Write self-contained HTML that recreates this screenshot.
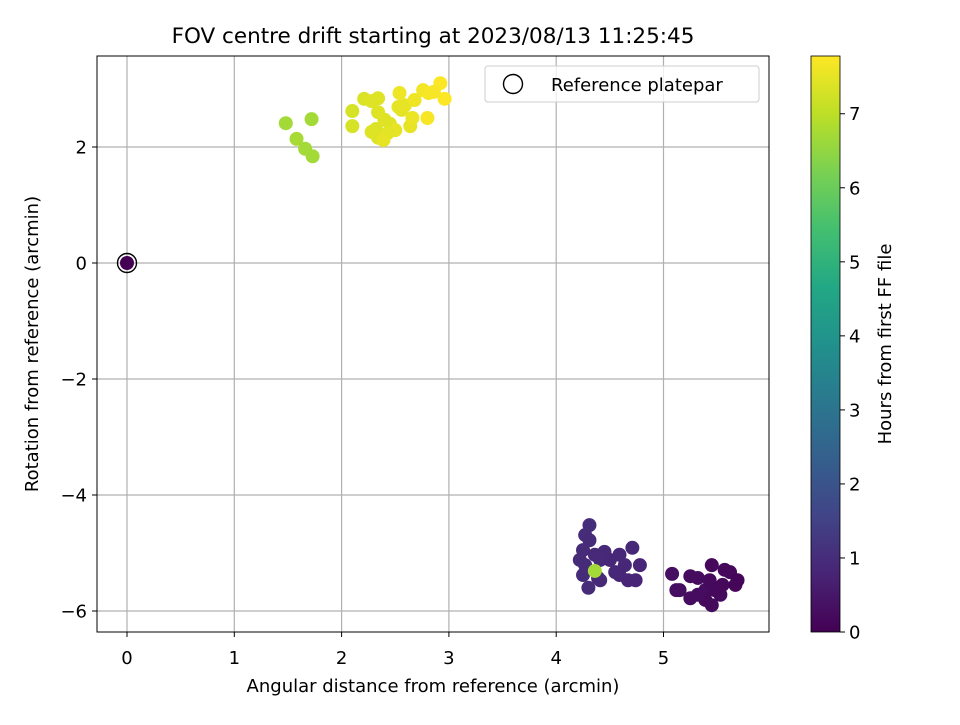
<!DOCTYPE html>
<html><head><meta charset="utf-8"><style>
body{margin:0;background:#fff;}
svg text{font-family:"DejaVu Sans","Liberation Sans",sans-serif;}
</style></head><body>
<svg id="chart" width="960" height="720" xmlns="http://www.w3.org/2000/svg">
<defs>
<linearGradient id="vir" x1="0" y1="1" x2="0" y2="0">
<stop offset="0" stop-color="#440154"/><stop offset="0.1" stop-color="#482475"/><stop offset="0.2" stop-color="#414487"/><stop offset="0.3" stop-color="#355f8d"/><stop offset="0.4" stop-color="#2a788e"/><stop offset="0.5" stop-color="#21918c"/><stop offset="0.6" stop-color="#22a884"/><stop offset="0.7" stop-color="#44bf70"/><stop offset="0.8" stop-color="#7ad151"/><stop offset="0.9" stop-color="#bddf26"/><stop offset="1" stop-color="#fde725"/>
</linearGradient>
</defs>
<text x="433" y="43" font-size="21.5" text-anchor="middle">FOV centre drift starting at 2023/08/13 11:25:45</text>
<g id="grid"></g>
<g id="points"></g>
<rect x="97" y="56" width="672" height="576" fill="none" stroke="#000" stroke-width="1"/>
<g id="ticks"></g>
<text x="433" y="692" font-size="18" text-anchor="middle">Angular distance from reference (arcmin)</text>
<text x="38" y="344" font-size="18" text-anchor="middle" transform="rotate(-90 38 344)">Rotation from reference (arcmin)</text>
<g>
<rect x="485" y="66" width="274" height="36" rx="3" fill="#fff" fill-opacity="0.8" stroke="#ccc"/>
<circle cx="513" cy="84" r="9.5" fill="none" stroke="#000" stroke-width="1.4"/>
<text x="551" y="91" font-size="18">Reference platepar</text>
</g>
<rect x="811" y="56" width="29" height="576" fill="url(#vir)" stroke="#000" stroke-width="0.8"/>
<g id="cbticks"></g>
<text x="891" y="344" font-size="18" text-anchor="middle" transform="rotate(-90 891 344)">Hours from first FF file</text>
</svg>
<script>
const xs=[0,1.48,1.58,1.66,1.72,1.73,
2.10,2.10,2.21,2.34,2.28,2.34,2.32,2.40,2.45,2.53,2.54,2.56,2.64,2.59,2.68,2.66,2.76,2.80,2.81,2.92,2.96,2.86,2.34,2.50,2.43,2.39,2.28,
4.31,4.27,4.31,4.25,4.22,4.27,4.36,4.41,4.45,4.50,4.59,4.71,4.64,4.59,4.67,4.74,4.78,4.39,4.25,4.30,4.41,4.55,
5.08,5.15,5.25,5.32,5.39,5.43,5.45,5.53,5.45,5.57,5.55,5.62,5.69,5.67,5.39,5.25,5.32,5.12,5.48,
4.36];
const ys=[0,2.41,2.14,1.97,2.48,1.84,
2.62,2.36,2.83,2.84,2.79,2.60,2.31,2.47,2.40,2.69,2.93,2.64,2.36,2.72,2.81,2.50,2.98,2.50,2.93,3.10,2.83,2.95,2.16,2.29,2.24,2.12,2.26,
-4.52,-4.69,-4.78,-4.95,-5.12,-5.21,-5.03,-5.12,-4.98,-5.12,-5.03,-4.91,-5.21,-5.38,-5.47,-5.47,-5.21,-5.43,-5.38,-5.60,-5.47,-5.33,
-5.36,-5.64,-5.40,-5.43,-5.64,-5.47,-5.90,-5.72,-5.21,-5.29,-5.55,-5.33,-5.47,-5.55,-5.81,-5.78,-5.72,-5.64,-5.64,
-5.31];
const hours=[0,6.7,6.75,6.7,6.7,6.7,
7.3,7.3,7.35,7.4,7.4,7.4,7.35,7.4,7.4,7.5,7.6,7.45,7.5,7.5,7.6,7.55,7.65,7.7,7.7,7.75,7.75,7.7,7.35,7.5,7.45,7.5,7.4,
1.0,1.0,0.95,0.95,0.95,0.95,0.9,0.9,0.9,0.85,0.85,0.85,0.85,0.8,0.8,0.8,0.8,0.9,0.95,0.95,0.9,0.85,
0.3,0.3,0.25,0.25,0.25,0.2,0.2,0.2,0.15,0.15,0.15,0.15,0.1,0.1,0.2,0.25,0.25,0.3,0.15,
6.7];
const xTicks=[0,1,2,3,4,5];
const yTicks=[-6,-4,-2,0,2];
const cTicks=[0,1,2,3,4,5,6,7];
const cMax=7.78;
const X=v=>127+v*107.3, Y=v=>263-v*58, C=v=>632-v*(576/cMax);
const NS="http://www.w3.org/2000/svg";
function mk(tag,attrs,parent,txt){const e=document.createElementNS(NS,tag);for(const k in attrs)e.setAttribute(k,attrs[k]);if(txt!==undefined)e.textContent=txt;parent.appendChild(e);return e;}
const stops=[[0,68,1,84],[0.1,72,36,117],[0.2,65,68,135],[0.3,53,95,141],[0.4,42,120,142],[0.5,33,145,140],[0.6,34,168,132],[0.7,68,191,112],[0.8,122,209,81],[0.9,189,223,38],[1,253,231,37]];
function vir(t){t=Math.max(0,Math.min(1,t));for(let i=1;i<stops.length;i++){if(t<=stops[i][0]){const a=stops[i-1],b=stops[i],f=(t-a[0])/(b[0]-a[0]);return `rgb(${[1,2,3].map(j=>Math.round(a[j]+f*(b[j]-a[j]))).join(',')})`;}}return 'rgb(253,231,37)';}
const g=document.getElementById('grid'),tk=document.getElementById('ticks'),pt=document.getElementById('points'),cb=document.getElementById('cbticks');
xTicks.forEach(v=>{
const l=mk('line',{x1:X(v),x2:X(v),y1:56,y2:632,stroke:'#b0b0b0','stroke-width':1.2},g);


mk('line',{x1:X(v),x2:X(v),y1:632,y2:637,stroke:'#000'},tk);
const t=mk('text',{x:X(v),y:664,'font-size':18,'text-anchor':'middle'},tk,String(v));


});
yTicks.forEach(v=>{
const l=mk('line',{x1:97,x2:769,y1:Y(v),y2:Y(v),stroke:'#b0b0b0','stroke-width':1.2},g);


mk('line',{x1:92,x2:97,y1:Y(v),y2:Y(v),stroke:'#000'},tk);
const t=mk('text',{x:87,y:Y(v)+6.5,'font-size':18,'text-anchor':'end'},tk,v<0?'\u2212'+(-v):String(v));


});
xs.forEach((x,i)=>{
const c=mk('circle',{cx:X(x),cy:Y(ys[i]),r:7,fill:vir(hours[i]/cMax)},pt);


});
const ref=mk('circle',{cx:X(0),cy:Y(0),r:9.5,fill:'none',stroke:'#000','stroke-width':1.4},pt);


cTicks.forEach(v=>{
mk('line',{x1:840,x2:845,y1:C(v),y2:C(v),stroke:'#000'},cb);
const t=mk('text',{x:849,y:C(v)+6.5,'font-size':18},cb,String(v));


});
</script>
</body></html>
